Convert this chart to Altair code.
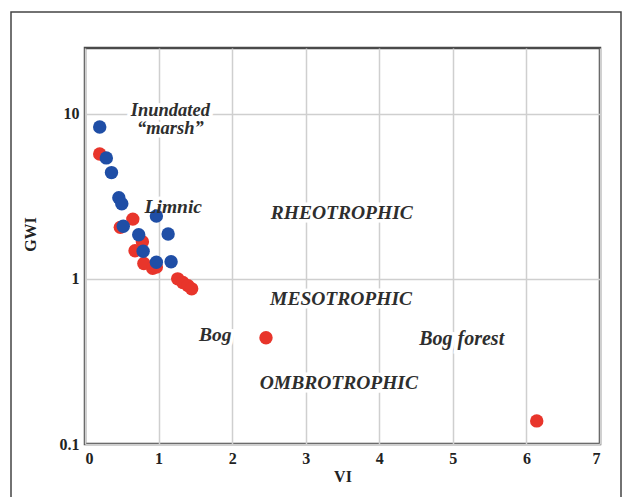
import altair as alt
import pandas as pd

# Wetland sites: vegetation index (VI) against groundwater index (GWI)
blue_vi = [0.20, 0.29, 0.36, 0.46, 0.50, 0.97, 0.52, 0.73, 1.13, 0.79, 0.97, 1.17]
blue_gwi = [8.3, 5.4, 4.4, 3.1, 2.85, 2.4, 2.08, 1.85, 1.87, 1.47, 1.26, 1.27]

red_vi = [0.20, 0.65, 0.48, 0.78, 0.68, 0.80, 0.92, 0.97, 1.26, 1.33, 1.40, 1.45, 2.46, 6.14]
red_gwi = [5.7, 2.3, 2.05, 1.68, 1.48, 1.24, 1.16, 1.18, 1.0, 0.95, 0.91, 0.87, 0.44, 0.138]

# Zone labels placed in data space ("|" separates lines)
label_text = ["Inundated|\u201cmarsh\u201d", "Limnic", "RHEOTROPHIC", "MESOTROPHIC",
              "Bog", "Bog forest", "OMBROTROPHIC"]
label_vi = [1.16, 1.20, 3.49, 3.48, 1.77, 5.12, 3.45]
label_gwi = [10.6, 2.72, 2.5, 0.76, 0.46, 0.435, 0.233]
label_size = [18.5, 19.5, 19.5, 19.5, 19.5, 20, 19.5]

x_ticks = [0, 1, 2, 3, 4, 5, 6, 7]
y_ticks = [0.1, 1, 10]

blue_df = pd.DataFrame({"VI": blue_vi, "GWI": blue_gwi})
red_df = pd.DataFrame({"VI": red_vi, "GWI": red_gwi})
labels_df = pd.DataFrame({"VI": label_vi, "GWI": label_gwi, "text": label_text,
                          "size": label_size})

SERIF = "Liberation Serif"

x_enc = alt.X("VI:Q", title="VI",
              scale=alt.Scale(domain=[0, 7], nice=False, zero=False),
              axis=alt.Axis(values=x_ticks, format="d", grid=True, ticks=False,
                            domain=False, labelPadding=6, titlePadding=2))
y_enc = alt.Y("GWI:Q", title="GWI",
              scale=alt.Scale(type="log", domain=[0.1, 25], nice=False),
              axis=alt.Axis(values=y_ticks, format="~g", grid=True, ticks=False,
                            domain=False, labelPadding=6, titleAngle=-90,
                            titleX=-47, titleY=186))

red_pts = alt.Chart(red_df).mark_circle(size=180, opacity=1, color="#e8352b").encode(
    x=x_enc, y=y_enc)
blue_pts = alt.Chart(blue_df).mark_circle(size=180, opacity=1, color="#1f4ea6").encode(
    x="VI:Q", y="GWI:Q")

text_common = dict(font=SERIF, fontStyle="italic", fontWeight="bold",
                   align="center", baseline="middle", lineBreak="|", lineHeight=18)
# white halo breaks the grid lines behind each zone label
halo = alt.Chart(labels_df).mark_text(color="white", stroke="white", strokeWidth=7,
                                      **text_common).encode(
    x="VI:Q", y="GWI:Q", text="text:N", size=alt.Size("size:Q", scale=None))
labels = alt.Chart(labels_df).mark_text(color="#2e2e2e", **text_common).encode(
    x="VI:Q", y="GWI:Q", text="text:N", size=alt.Size("size:Q", scale=None))

# Thin outer border around the figure
frame = alt.Chart(pd.DataFrame({"k": [0]})).mark_rect(
    fill=None, stroke="#444", strokeWidth=1.5).encode(
    x=alt.value(-74), x2=alt.value(536), y=alt.value(-36), y2=alt.value(470))

chart = alt.layer(frame, halo, red_pts, blue_pts, labels).properties(
    width=515, height=396,
    background="white",
    autosize=alt.AutoSizeParams(type="none"),
    padding={"left": 85, "top": 48, "right": 23, "bottom": 53},
).configure_view(
    stroke="#4a4a4a", strokeWidth=2.5
).configure_axis(
    labelFont=SERIF, labelFontWeight="bold", labelFontSize=16, labelColor="#222",
    titleFont=SERIF, titleFontWeight="bold", titleFontSize=16, titleColor="#222",
    gridColor="#cfcfcf", gridWidth=1.5
)

chart.save("out.html", embed_options={"renderer": "svg", "actions": False})
